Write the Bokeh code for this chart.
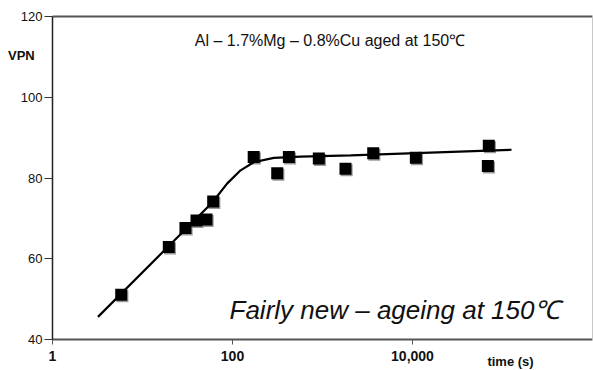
from bokeh.plotting import figure
from bokeh.models import (FixedTicker, NumeralTickFormatter, Label, LogAxis, LinearAxis, LogScale)
from bokeh.embed import file_html
from bokeh.resources import INLINE

# measured hardness (VPN) vs ageing time (s)
time_s = [5.8, 19.6, 30, 39.8, 51.4, 61, 172, 314, 423, 910, 1800, 3660, 10900, 70400, 68700]
vpn = [51.1, 62.9, 67.6, 69.5, 69.7, 74.2, 85.2, 81.2, 85.2, 84.8, 82.3, 86.1, 85.0, 88.0, 83.0]

# fitted curve
curve_t = [3.2, 60, 87, 123, 172, 288, 573, 2060, 126000]
curve_v = [45.6, 74.0, 78.6, 81.9, 83.9, 85.0, 85.3, 85.6, 87.0]

x_ticks = [1, 100, 10000]
y_ticks = [40, 60, 80, 100, 120]
X_MIN, X_MAX = 1, 1e6
Y_MIN, Y_MAX = 40, 120

FONT = "Liberation Sans"
W, H = 593, 370
# plot-box placement inside the canvas (pixels)
BOX_L, BOX_R, BOX_T, BOX_B = 52, 592, 16, 339
px_per_dec = (BOX_R - BOX_L) / 6.0
px_per_unit = (BOX_B - BOX_T) / (Y_MAX - Y_MIN)
xr = (10 ** (-BOX_L / px_per_dec), 10 ** (6 + (W - BOX_R) / px_per_dec))
yr = (Y_MIN - (H - BOX_B) / px_per_unit, Y_MAX + BOX_T / px_per_unit)

p = figure(width=W, height=H, x_axis_type=None, y_axis_type=None, x_range=xr, y_range=yr,
           output_backend="svg", toolbar_location=None, min_border=0)
p.x_scale = LogScale()
p.background_fill_color = "white"
p.border_fill_color = "white"
p.outline_line_color = None

xa = LogAxis(fixed_location=Y_MIN, bounds=(X_MIN, X_MAX))
xa.ticker = FixedTicker(ticks=x_ticks, minor_ticks=[])
xa.formatter = NumeralTickFormatter(format="0,0")
xa.axis_line_color = "#555555"
xa.axis_line_width = 2
xa.major_tick_line_color = "#555555"
xa.major_tick_out = 5
xa.major_tick_in = 0
xa.minor_tick_line_color = None
xa.major_label_standoff = 6
xa.major_label_text_font = FONT
xa.major_label_text_font_size = "14px"
xa.major_label_text_font_style = "bold"
xa.major_label_text_color = "#111111"
p.add_layout(xa, "below")

ya = LinearAxis(fixed_location=X_MIN, bounds=(Y_MIN, Y_MAX))
ya.ticker = FixedTicker(ticks=y_ticks, minor_ticks=[])
ya.axis_line_color = "#222222"
ya.axis_line_width = 1.5
ya.major_tick_line_color = "#333333"
ya.major_tick_out = 8
ya.major_tick_in = 0
ya.minor_tick_line_color = None
ya.major_label_standoff = 2
ya.major_label_text_font = FONT
ya.major_label_text_font_size = "13px"
ya.major_label_text_color = "#111111"
p.add_layout(ya, "left")

# top and right box edges as bare axes
top = LogAxis(fixed_location=Y_MAX, bounds=(X_MIN, X_MAX), ticker=FixedTicker(ticks=[], minor_ticks=[]),
              axis_line_color="#555555", axis_line_width=2, major_label_text_font_size="0px",
              major_tick_line_color=None, minor_tick_line_color=None)
p.add_layout(top, "above")
right = LinearAxis(fixed_location=X_MAX, bounds=(Y_MIN, Y_MAX), ticker=FixedTicker(ticks=[], minor_ticks=[]),
                   axis_line_color="#c8c8c8", axis_line_width=1, major_label_text_font_size="0px",
                   major_tick_line_color=None, minor_tick_line_color=None)
p.add_layout(right, "right")

# data markers with a soft shadow
shadow_t = [t * 10 ** (1.2 / px_per_dec) for t in time_s]
shadow_v = [v - 1.5 / px_per_unit for v in vpn]
p.scatter(shadow_t, shadow_v, marker="square", size=12, fill_color="#9a9a9a", line_color=None)
p.line(curve_t, curve_v, line_color="black", line_width=2.2)
p.scatter(time_s, vpn, marker="square", size=12, fill_color="black", line_color=None)

p.add_layout(Label(x=0.32, y=110.3, text="VPN", text_font=FONT, text_font_size="13px",
                   text_font_style="bold", text_align="left", text_baseline="middle",
                   text_color="#111111"))
p.add_layout(Label(x=1211, y=114.1, text="Al – 1.7%Mg – 0.8%Cu aged at 150℃", text_font=FONT,
                   text_font_size="16px", text_align="center", text_baseline="middle",
                   text_color="#111111"))
p.add_layout(Label(x=6393, y=47.2, text="Fairly new – ageing at 150℃", text_font=FONT,
                   text_font_size="26px", text_font_style="italic", text_align="center",
                   text_baseline="alphabetic", text_color="#111111"))
p.add_layout(Label(x=122700, y=34.6, text="time (s)", text_font=FONT, text_font_size="13px",
                   text_font_style="bold", text_align="center", text_baseline="middle",
                   text_color="#111111"))

open("out.html", "w").write(file_html(p, INLINE))
